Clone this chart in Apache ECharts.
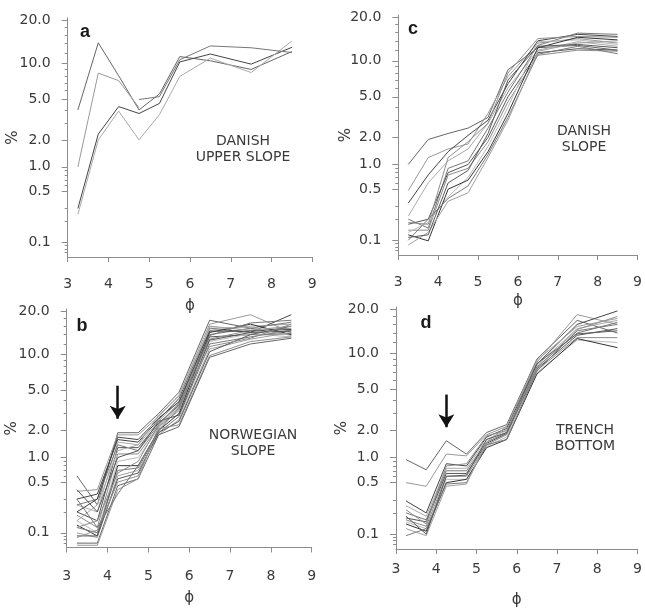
<!DOCTYPE html>
<html><head><meta charset="utf-8">
<script src="https://cdn.jsdelivr.net/npm/echarts@6/dist/echarts.min.js"></script>
<style>html,body{margin:0;padding:0;background:#fff}#c{width:645px;height:612px}</style>
</head><body><div id="c"></div>
<script>
// ---- data (percent by weight vs grain size phi) ----
const phi = [3.25, 3.75, 4.25, 4.75, 5.25, 5.75, 6.5, 7.5, 8.5];
const xTicks = [3, 4, 5, 6, 7, 8, 9];
const yTickLabels = [0.1, 0.5, 1.0, 2.0, 5.0, 10.0, 20.0];
const yMinorTicks = [0.07, 0.08, 0.09, 0.2, 0.3, 0.6, 0.7, 0.8, 0.9, 3, 4, 6, 7, 8, 9, 12, 14, 16, 18];
const yRangePct = [0.06, 20.6];

const panelA = [
  [4.0, 14.2, 8.0, 4.0, 5.6, 11.3, 10.5, 9.0, 12.3],
  [1.0, 8.4, 7.3, 4.2, null, null, null, null, null],
  [0.3, 2.3, 4.3, 3.7, 4.6, 10.3, 11.8, 9.9, 13.2],
  [0.25, 2.0, 3.9, 2.0, 3.6, 7.9, 11.0, 8.5, 14.6],
  [null, null, null, 5.0, 5.3, 10.7, 13.5, 13.1, 12.1]
];
const panelC = [
  [1.0, 1.9, 2.2, 2.5, 3.2, 8.5, 12.5, 13.0, 12.0],
  [0.48, 1.2, 1.5, 1.7, 3.5, 7.5, 13.5, 14.5, 13.5],
  [0.33, 0.75, 1.4, 2.1, 3.0, 6.5, 14.0, 15.5, 15.0],
  [0.22, 0.6, 1.1, 1.5, 2.8, 6.0, 12.0, 13.8, 12.8],
  [0.2, 0.15, 0.9, 1.1, 2.5, 5.5, 13.0, 15.8, 15.5],
  [0.17, 0.2, 0.8, 1.0, 2.0, 5.0, 11.5, 12.3, 12.0],
  [0.14, 0.14, 0.75, 0.9, 1.8, 4.5, 11.0, 12.0, 11.8],
  [0.13, 0.18, 0.4, 0.7, 1.6, 4.0, 13.8, 14.2, 13.2],
  [0.12, 0.098, 0.5, 0.65, 1.4, 3.5, 12.5, 14.8, 14.2],
  [0.1, 0.2, 0.38, 0.55, 1.3, 3.2, 11.2, 12.8, 11.3],
  [0.085, 0.13, 0.35, 0.45, 1.2, 3.0, 11.8, 13.5, 14.0],
  [0.11, 0.12, 0.6, 0.85, 2.2, 7.0, 12.8, 13.2, 12.5],
  [0.18, 0.17, 1.2, 1.8, 2.8, 8.0, 14.5, 15.0, 14.8]
];
const panelB = [
  [0.6, 0.25, 1.9, 1.9, 3.0, 4.8, 17.5, 15.5, 14.0],
  [0.38, 0.4, 1.8, 1.8, 2.8, 4.5, 16.5, 19.0, 14.5],
  [0.3, 0.35, 1.6, 1.5, 2.6, 4.2, 15.5, 14.5, 19.0],
  [0.25, 0.2, 1.5, 1.4, 2.5, 4.0, 15.0, 16.0, 16.5],
  [0.25, 0.3, 1.4, 1.2, 2.3, 3.8, 14.0, 15.5, 17.0],
  [0.2, 0.15, 1.3, 1.3, 2.4, 3.6, 13.5, 14.0, 14.2],
  [0.18, 0.12, 1.1, 1.1, 2.2, 3.5, 13.0, 15.0, 15.5],
  [0.15, 0.1, 0.9, 1.0, 2.1, 3.3, 12.5, 14.2, 13.5],
  [0.13, 0.09, 0.8, 0.8, 2.0, 3.0, 14.5, 16.5, 14.0],
  [0.12, 0.1, 0.7, 0.75, 1.9, 2.8, 12.0, 13.5, 15.0],
  [0.1, 0.085, 0.6, 0.7, 1.8, 2.6, 11.0, 13.0, 14.5],
  [0.09, 0.09, 0.55, 0.65, 1.9, 2.5, 10.5, 14.0, 16.0],
  [0.085, 0.11, 0.5, 0.6, 2.1, 2.3, 9.8, 12.5, 13.5],
  [0.07, 0.07, 0.45, 0.55, 1.8, 2.2, 9.5, 12.0, 13.2],
  [0.065, 0.065, 0.4, 0.55, 2.2, 3.2, 16.0, 15.0, 16.0],
  [0.2, 0.3, 1.7, 1.6, 2.7, 3.9, 14.8, 14.8, 15.2],
  [0.15, 0.25, 1.2, 1.4, 2.9, 4.4, 15.5, 15.8, 13.8],
  [0.3, 0.12, 0.35, 0.8, 2.0, 3.4, 13.8, 16.8, 17.5],
  [0.4, 0.2, 1.0, 1.2, 2.5, 2.9, 12.8, 14.5, 14.8],
  [0.12, 0.15, 0.65, 0.9, 2.3, 3.7, 11.5, 13.2, 16.5]
];
const panelD = [
  [0.95, 0.72, 1.55, 1.1, 1.9, 2.3, 9.0, 17.0, 14.0],
  [0.5, 0.45, 1.1, 1.05, 1.8, 2.2, 8.5, 18.5, 16.0],
  [0.29, 0.2, 0.85, 0.8, 1.7, 2.1, 8.2, 16.0, 19.5],
  [0.25, 0.18, 0.75, 0.75, 1.6, 2.0, 8.0, 15.0, 17.0],
  [0.2, 0.16, 0.7, 0.7, 1.5, 1.9, 7.8, 14.0, 16.5],
  [0.17, 0.15, 0.65, 0.65, 1.45, 1.85, 7.5, 13.5, 15.0],
  [0.16, 0.13, 0.6, 0.6, 1.4, 1.8, 7.3, 13.0, 13.0],
  [0.15, 0.12, 0.55, 0.55, 1.35, 1.7, 7.0, 12.5, 12.0],
  [0.14, 0.11, 0.5, 0.55, 1.3, 1.6, 6.8, 12.8, 11.0],
  [0.095, 0.12, 0.48, 0.5, 1.4, 1.6, 7.2, 14.5, 16.0],
  [0.12, 0.095, 0.45, 0.48, 1.5, 2.2, 8.8, 15.5, 17.5],
  [0.18, 0.1, 0.6, 0.62, 1.6, 1.9, 8.3, 13.8, 14.5],
  [0.22, 0.14, 0.8, 0.85, 1.75, 2.0, 7.6, 14.8, 18.0]
];
// arrows (phi, from %, to %)
const arrowB = [4.25, 5.5, 2.66];
const arrowD = [4.25, 4.5, 2.16];

const panelLetters = ['a', 'c', 'b', 'd'];
const panelNames = ['DANISH\nUPPER SLOPE', 'DANISH\nSLOPE', 'NORWEGIAN\nSLOPE', 'TRENCH\nBOTTOM'];

// ---- probability (probit) scale ----
function probit(p) {
  const a = [-3.969683028665376e+01, 2.209460984245205e+02, -2.759285104469687e+02, 1.383577518672690e+02, -3.066479806614716e+01, 2.506628277459239e+00];
  const b = [-5.447609879822406e+01, 1.615858368580409e+02, -1.556989798598866e+02, 6.680131188771972e+01, -1.328068155288572e+01];
  const c = [-7.784894002430293e-03, -3.223964580411365e-01, -2.400758277161838e+00, -2.549732539343734e+00, 4.374664141464968e+00, 2.938163982698783e+00];
  const d = [7.784695709041462e-03, 3.224671290700398e-01, 2.445134137142996e+00, 3.754408661907416e+00];
  const pl = 0.02425;
  let q, r;
  if (p < pl) {
    q = Math.sqrt(-2 * Math.log(p));
    return (((((c[0]*q+c[1])*q+c[2])*q+c[3])*q+c[4])*q+c[5]) / ((((d[0]*q+d[1])*q+d[2])*q+d[3])*q+1);
  } else if (p <= 1 - pl) {
    q = p - 0.5; r = q * q;
    return (((((a[0]*r+a[1])*r+a[2])*r+a[3])*r+a[4])*r+a[5])*q / (((((b[0]*r+b[1])*r+b[2])*r+b[3])*r+b[4])*r+1);
  } else {
    q = Math.sqrt(-2 * Math.log(1 - p));
    return -(((((c[0]*q+c[1])*q+c[2])*q+c[3])*q+c[4])*q+c[5]) / ((((d[0]*q+d[1])*q+d[2])*q+d[3])*q+1);
  }
}
const Z = pct => probit(pct / 100);
const zMin = Z(yRangePct[0]), zMax = Z(yRangePct[1]);
const majorZ = yTickLabels.map(Z);
const minorZ = yMinorTicks.map(Z);

// ---- layout ----
const grids = [
  { left: 67.7, top: 18, width: 244.6, height: 239 },
  { left: 398.3, top: 15, width: 246, height: 240 },
  { left: 66.7, top: 309, width: 245, height: 238.5 },
  { left: 396, top: 307, width: 244.7, height: 242 }
];
const xLabelMargins = [20, 20, 22, 13];
const nameGapsX = [42, 39, 43, 44];
const nameGapsY = [47.5, 45, 47, 46];
const panels = [panelA, panelC, panelB, panelD];
const grays = ['#666', '#999', '#444', '#aaa', '#777', '#555', '#8c8c8c', '#bbb', '#333', '#7a7a7a', '#a0a0a0', '#5a5a5a', '#909090'];

const FONT = 'DejaVu Sans';
const axisCol = '#8c8c8c';
const txtCol = '#3a3a3a';

const xAxes = [], yAxes = [], series = [];
grids.forEach((g, k) => {
  xAxes.push({
    type: 'value', gridIndex: k, min: 3, max: 9, interval: 1,
    axisLine: { show: true, lineStyle: { color: axisCol, width: 1 } },
    axisTick: { show: true, length: 5, lineStyle: { color: axisCol } },
    axisLabel: { margin: xLabelMargins[k], fontSize: 14, color: txtCol, fontFamily: FONT },
    splitLine: { show: false },
    name: 'ϕ', nameLocation: 'middle', nameGap: nameGapsX[k], nameMoveOverlap: false,
    nameTextStyle: { fontSize: 15, color: txtCol, fontFamily: FONT }
  });
  yAxes.push({
    type: 'value', gridIndex: k, position: 'left', min: zMin, max: zMax,
    axisLine: { show: true, lineStyle: { color: axisCol, width: 1 } },
    axisTick: { show: true, length: 6, customValues: majorZ, lineStyle: { color: axisCol } },
    axisLabel: {
      customValues: majorZ, margin: 17, fontSize: 14, color: txtCol, fontFamily: FONT,
      formatter: v => {
        let best = 0;
        majorZ.forEach((z, i) => { if (Math.abs(z - v) < Math.abs(majorZ[best] - v)) best = i; });
        return yTickLabels[best].toFixed(1);
      }
    },
    splitLine: { show: false },
    name: '%', nameLocation: 'middle', nameGap: nameGapsY[k], nameRotate: 90, nameMoveOverlap: false,
    nameTextStyle: { fontSize: 15, color: txtCol, fontFamily: FONT }
  });
  yAxes.push({
    type: 'value', gridIndex: k, position: 'left', offset: 0, min: zMin, max: zMax,
    axisLine: { show: false },
    axisTick: { show: true, length: 3, customValues: minorZ, lineStyle: { color: axisCol } },
    axisLabel: { show: false },
    splitLine: { show: false }
  });
  panels[k].forEach((row, j) => {
    const data = [];
    row.forEach((v, i) => { if (v !== null) data.push([phi[i], Z(v)]); });
    series.push({
      type: 'line', xAxisIndex: k, yAxisIndex: 2 * k, data,
      symbol: 'none', silent: true, animation: false,
      lineStyle: { width: 1, color: grays[j % grays.length] }
    });
  });
});

function arrowSeries(k, arr) {
  return {
    type: 'line', xAxisIndex: k, yAxisIndex: 2 * k, data: [], symbol: 'none', animation: false, silent: true,
    markLine: {
      silent: true, animation: false, symbol: ['none', 'arrow'], symbolSize: [12, 13],
      lineStyle: { color: '#111', width: 2.5, type: 'solid' },
      label: { show: false },
      data: [[{ coord: [arr[0], Z(arr[1])] }, { coord: [arr[0], Z(arr[2])] }]]
    }
  };
}
series.push(arrowSeries(2, arrowB));
series.push(arrowSeries(3, arrowD));

const letterPos = [[85, 32], [413, 29], [82, 326], [426, 323]];
const namePos = [[243, 149], [584, 139], [253, 443], [585, 438]];
const graphic = [];
letterPos.forEach((p, k) => {
  graphic.push({ type: 'text', x: p[0], y: p[1], silent: true,
    style: { text: panelLetters[k], fill: '#1a1a1a', font: 'bold 18px "Liberation Sans"', align: 'center', verticalAlign: 'middle' } });
  graphic.push({ type: 'text', x: namePos[k][0], y: namePos[k][1], silent: true,
    style: { text: panelNames[k], fill: txtCol, font: '14px "DejaVu Sans"', align: 'center', verticalAlign: 'middle', lineHeight: 16 } });
});

const chart = echarts.init(document.getElementById('c'), null, { renderer: 'canvas' });
chart.setOption({
  animation: false,
  backgroundColor: '#fff',
  grid: grids.map(g => Object.assign({ containLabel: false }, g)),
  xAxis: xAxes, yAxis: yAxes, series, graphic
});
</script></body></html>
